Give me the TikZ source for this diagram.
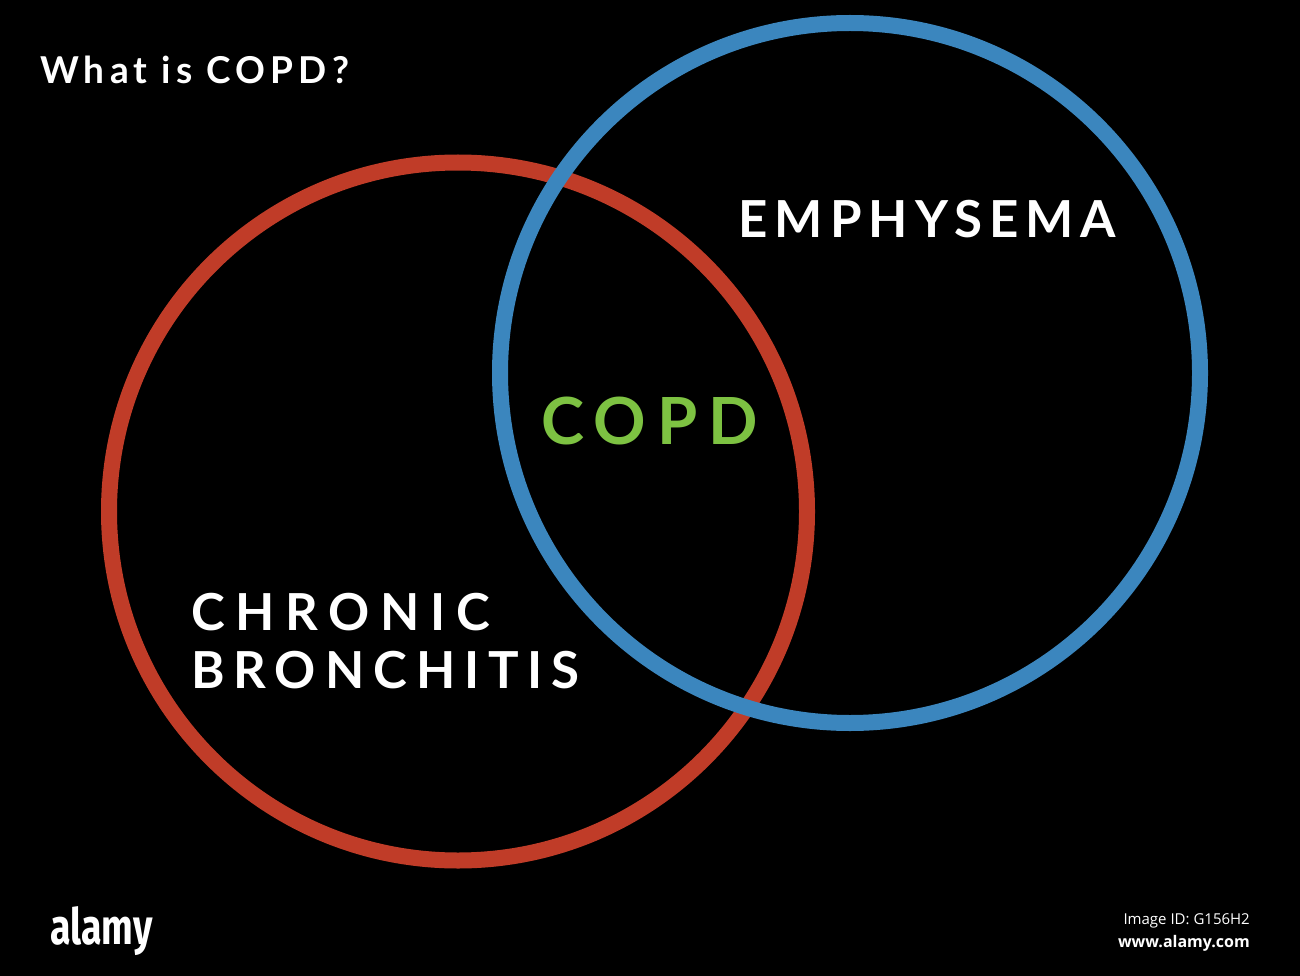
\documentclass[tikz,border=0pt]{standalone}
\usepackage{fontspec}
\setmainfont{Lato}
\newfontfamily\titlefont[LetterSpace=14]{Lato Bold}
\newfontfamily\emphfont[LetterSpace=14]{Lato Bold}
\newfontfamily\copdfont[LetterSpace=16.5]{Lato Bold}
\newfontfamily\chronfont[LetterSpace=21]{Lato Bold}
\newfontfamily\bronfont[LetterSpace=17.5]{Lato Bold}
\newfontfamily\footfont{Open Sans}
\newfontfamily\logofont{Fira Sans Bold}
\definecolor{bgblack}{RGB}{0,0,0}
\definecolor{copdred}{RGB}{192,60,40}
\definecolor{copdblue}{RGB}{59,134,190}
\definecolor{copdgreen}{RGB}{125,194,66}
\tikzset{
  ring/.style={line width=16pt},
  label/.style={text=white, inner sep=0pt, anchor=base west},
}
\begin{document}
\begin{tikzpicture}[x=1pt,y=-1pt]
\fill[bgblack] (0,0) rectangle (1300,976);
\useasboundingbox (0,0) rectangle (1300,976);
\draw[ring, copdred] (458,511.5) circle (349);
\draw[ring, copdblue] (850,373) circle (350);
\node[label, font={\titlefont\fontsize{37}{37}\selectfont}] (title) at (40,84) {What is COPD?};
\node[label, font={\emphfont\fontsize{51}{51}\selectfont}] (emph) at (738,237) {EMPHYSEMA};
\node[label, text=copdgreen, font={\copdfont\fontsize{65}{65}\selectfont}] (copd) at (541,444) {COPD};
\node[label, font={\chronfont\fontsize{51}{51}\selectfont}] (chronic) at (191,630) {CHRONIC};
\node[label, font={\bronfont\fontsize{51}{51}\selectfont}] (bronch) at (191,688) {BRONCHITIS};
\node[label, font={\logofont\fontsize{50}{50}\selectfont}, xscale=0.75] (logo) at (50,944) {alamy};
\node[inner sep=0pt, anchor=base east, text=white, font={\footfont\fontsize{15}{15}\selectfont}] (imgid) at (1250,924) {Image ID: G156H2};
\node[inner sep=0pt, anchor=base east, text=white, font={\footfont\bfseries\fontsize{16}{16}\selectfont}] (url) at (1250,947) {www.alamy.com};
\end{tikzpicture}
\end{document}
